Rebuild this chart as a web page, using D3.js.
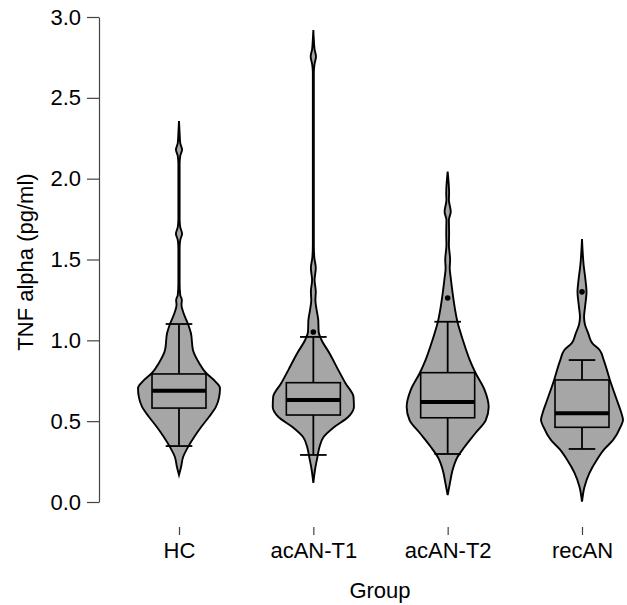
<!DOCTYPE html>
<html>
<head>
<meta charset="utf-8">
<script src="https://cdn.jsdelivr.net/npm/d3@7"></script>
<style>
  body { margin: 0; background: #fff; }
  text { font-family: "Liberation Sans", Arial, sans-serif; }
</style>
</head>
<body>
<div class="canvas"></div>
<script>
// groups and box statistics
const groups = ['HC', 'acAN-T1', 'acAN-T2', 'recAN'];
const whiskerLow = [0.346, 0.291, 0.297, 0.328];
const quart1 = [0.581, 0.538, 0.521, 0.462];
const medians = [0.688, 0.631, 0.619, 0.549];
const quart3 = [0.792, 0.738, 0.800, 0.755];
const whiskerHigh = [1.101, 1.021, 1.115, 0.878];
const outliers = [[], [1.052], [1.262], [1.300]];
const yTicks = [0, 0.5, 1, 1.5, 2, 2.5, 3];

// violin outlines: [value, relative density]
const violinHC = [[0.167,0],[0.216,0.05],[0.278,0.10],[0.340,0.22],[0.402,0.37],[0.464,0.54],[0.526,0.73],[0.588,0.90],[0.650,0.98],[0.705,1.00],[0.742,0.90],[0.798,0.66],[0.860,0.49],[0.940,0.34],[1.045,0.29],[1.101,0.22],[1.169,0.11],[1.219,0.06],[1.250,0.07],[1.280,0.03],[1.35,0.015],[1.57,0.015],[1.62,0.03],[1.66,0.075],[1.70,0.03],[1.75,0.015],[2.09,0.015],[2.14,0.03],[2.18,0.075],[2.22,0.03],[2.28,0.015],[2.357,0]];
const violinT1 = [[0.118,0],[0.198,0.04],[0.278,0.10],[0.340,0.15],[0.402,0.25],[0.464,0.51],[0.526,0.85],[0.588,0.99],[0.650,0.98],[0.736,0.78],[0.816,0.61],[0.922,0.39],[1.002,0.20],[1.052,0.13],[1.126,0.12],[1.188,0.08],[1.250,0.05],[1.300,0.06],[1.373,0.03],[1.447,0.06],[1.51,0.025],[1.59,0.012],[2.66,0.012],[2.71,0.03],[2.755,0.065],[2.80,0.03],[2.86,0.012],[2.92,0]];
const violinT2 = [[0.043,0],[0.118,0.056],[0.198,0.12],[0.278,0.24],[0.340,0.41],[0.427,0.68],[0.507,0.93],[0.588,1.00],[0.693,0.90],[0.798,0.68],[0.878,0.54],[1.002,0.37],[1.113,0.24],[1.206,0.17],[1.293,0.12],[1.386,0.075],[1.447,0.05],[1.497,0.06],[1.59,0.03],[1.664,0.035],[1.744,0.03],[1.796,0.075],[1.868,0.03],[1.911,0.035],[2.043,0]];
const violinRec = [[0.002,0],[0.093,0.06],[0.179,0.18],[0.260,0.36],[0.328,0.55],[0.384,0.76],[0.464,0.94],[0.507,1.00],[0.551,0.96],[0.631,0.85],[0.755,0.68],[0.878,0.53],[0.940,0.43],[0.983,0.25],[1.045,0.15],[1.10,0.07],[1.144,0.05],[1.219,0.08],[1.300,0.11],[1.373,0.085],[1.466,0.04],[1.627,0]];
const violins = [violinHC, violinT1, violinT2, violinRec];

const dims = {width: 627, height: 605};
const fillGrey = '#a6a6a6';
const fontSize = 22;

const svg = d3.select('.canvas')
    .append('svg')
    .attr('width', dims.width)
    .attr('height', dims.height);

const y = d3.scaleLinear().domain([0, 3]).range([502, 17]);
const x = d3.scalePoint().domain(groups).range([179, 582]);
const w = d3.scaleLinear().domain([0, 1]).range([0, 41]);
const boxHalf = 27, capHalf = 13.3;

// y axis
const yAxis = svg.append('g')
    .attr('transform', 'translate(99,0)')
    .call(d3.axisLeft(y).tickValues(yTicks).tickFormat(d3.format('.1f')).tickSize(12).tickSizeOuter(0).tickPadding(6));
yAxis.select('.domain').attr('stroke', '#444').attr('stroke-width', 1.2);
yAxis.selectAll('.tick line').attr('stroke', '#444').attr('stroke-width', 1.2);
yAxis.selectAll('text').attr('font-size', fontSize).attr('fill', '#000')
    .style('font-family', '"Liberation Sans", Arial, sans-serif');

// x axis (ticks only)
const xAxis = svg.append('g')
    .attr('transform', 'translate(0,527)')
    .call(d3.axisBottom(x).tickSize(8).tickPadding(7));
xAxis.select('.domain').remove();
xAxis.selectAll('.tick line').attr('stroke', '#444').attr('stroke-width', 1.2);
xAxis.selectAll('text').attr('font-size', fontSize).attr('fill', '#000')
    .style('font-family', '"Liberation Sans", Arial, sans-serif');

// axis titles
svg.append('text')
    .attr('transform', 'translate(33,262) rotate(-90)')
    .attr('text-anchor', 'middle')
    .attr('font-size', fontSize)
    .text('TNF alpha (pg/ml)');
svg.append('text')
    .attr('x', 380).attr('y', 598)
    .attr('text-anchor', 'middle')
    .attr('font-size', fontSize)
    .text('Group');

const graph = svg.append('g');

groups.forEach((g, i) => {
    const cx = x(g);

    const area = d3.area()
        .curve(d3.curveMonotoneY)
        .y(d => y(d[0]))
        .x0(d => cx - w(d[1]))
        .x1(d => cx + w(d[1]));

    graph.append('path')
        .datum(violins[i])
        .attr('d', area)
        .attr('fill', fillGrey)
        .attr('stroke', '#000')
        .attr('stroke-width', 1.9);

    // whisker line
    graph.append('line')
        .attr('x1', cx).attr('x2', cx)
        .attr('y1', y(whiskerLow[i])).attr('y2', y(whiskerHigh[i]))
        .attr('stroke', '#000').attr('stroke-width', 1.8);

    // caps
    [whiskerLow[i], whiskerHigh[i]].forEach(v => {
        graph.append('line')
            .attr('x1', cx - capHalf).attr('x2', cx + capHalf)
            .attr('y1', y(v)).attr('y2', y(v))
            .attr('stroke', '#000').attr('stroke-width', 1.8);
    });

    // box
    graph.append('rect')
        .attr('x', cx - boxHalf)
        .attr('y', y(quart3[i]))
        .attr('width', boxHalf * 2)
        .attr('height', y(quart1[i]) - y(quart3[i]))
        .attr('fill', fillGrey)
        .attr('stroke', '#000')
        .attr('stroke-width', 1.6);

    // median
    graph.append('line')
        .attr('x1', cx - boxHalf).attr('x2', cx + boxHalf)
        .attr('y1', y(medians[i])).attr('y2', y(medians[i]))
        .attr('stroke', '#000').attr('stroke-width', 4);

    // outlier points
    graph.selectAll(null)
        .data(outliers[i])
        .enter()
        .append('circle')
        .attr('cx', cx)
        .attr('cy', d => y(d))
        .attr('r', 2.8)
        .attr('fill', '#000');
});
</script>
</body>
</html>
